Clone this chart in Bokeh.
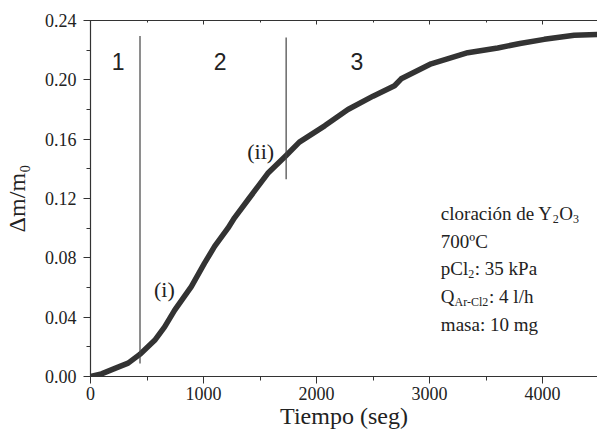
from bokeh.plotting import figure
from bokeh.models import (Range1d, LinearAxis, SingleIntervalTicker, NumeralTickFormatter,
                          Label, CustomJSTickFormatter)
from bokeh.embed import file_html
from bokeh.resources import INLINE

# ---- data ----
tiempo = [0, 97, 244, 333, 436, 568, 656, 745, 892, 1009, 1098, 1216, 1274, 1392, 1569,
          1731, 1848, 2072, 2278, 2500, 2690, 2749, 3014, 3338, 3603, 3800, 4015, 4280, 4486]
masa = [0.0, 0.0018, 0.0063, 0.009, 0.0149, 0.0244, 0.0334, 0.0447, 0.0606, 0.0764, 0.0877,
        0.100, 0.107, 0.119, 0.137, 0.149, 0.158, 0.169, 0.180, 0.189, 0.196, 0.2007, 0.2108,
        0.2183, 0.2215, 0.2245, 0.2273, 0.2300, 0.2305]

# stage boundaries (x, y_start, y_end)
limites_x = [438, 1731]
limites_y0 = [0.0088, 0.133]
limites_y1 = [0.2295, 0.2285]

etapas = ["1", "2", "3"]
etapas_x = [245, 1148, 2357]
etapas_y = [0.2125, 0.2125, 0.2125]

puntos = ["(i)", "(ii)"]
puntos_x = [746, 1625]
puntos_y = [0.0585, 0.1515]

condiciones = [
    [("cloración de Y", 0), ("2", 1), ("O", 0), ("3", 1)],
    [("700ºC", 0)],
    [("pCl", 0), ("2", 1), (": 35 kPa", 0)],
    [("Q", 0), ("Ar-Cl2", 1), (": 4 l/h", 0)],
    [("masa: 10 mg", 0)],
]
cond_x = 3100
cond_y = [0.1098, 0.0911, 0.0725, 0.0538, 0.0352]

# ---- style ----
AX = "#333333"
SERIF = "Liberation Serif"
FS_BLOCK = 19
FS_SUB = 12

# Times New Roman advance widths (em/1000) for positioning subscripts
TNR = {" ": 250, "c": 444, "l": 278, "o": 500, "r": 333, "a": 444, "i": 278, "ó": 500,
       "n": 500, "d": 500, "e": 444, "Y": 722, "O": 722, "p": 500, "C": 667, ":": 278,
       "3": 500, "5": 500, "k": 500, "P": 556, "Q": 722, "4": 500, "/": 278, "h": 500,
       "A": 722, "-": 333, "2": 500, "m": 778, "s": 389, "g": 500, "1": 500, "0": 500,
       "7": 500, "º": 310}


def text_width(s, size):
    return sum(TNR.get(ch, 500) for ch in s) * size / 1000.0


p = figure(width=597, height=437, output_backend="svg", toolbar_location=None,
           x_range=Range1d(0, 4486), y_range=Range1d(0, 0.24),
           min_border_left=89, min_border_right=0, min_border_top=20, min_border_bottom=61,
           x_axis_label="Tiempo (seg)", y_axis_label="Δm/m₀")
p.outline_line_color = None
p.grid.visible = False
p.background_fill_color = "white"
p.border_fill_color = "white"

p.xaxis.ticker = SingleIntervalTicker(interval=1000, num_minor_ticks=2)
p.yaxis.ticker = SingleIntervalTicker(interval=0.04, num_minor_ticks=2)
p.yaxis.formatter = NumeralTickFormatter(format="0.00")

for axs in (p.xaxis, p.yaxis):
    axs.axis_line_color = AX
    axs.axis_line_width = 1.2
    axs.major_tick_line_color = AX
    axs.minor_tick_line_color = AX
    axs.major_tick_in = 0
    axs.major_tick_out = 7
    axs.minor_tick_in = 0
    axs.minor_tick_out = 4
    axs.major_label_text_font = SERIF
    axs.major_label_text_font_size = "18px"
    axs.major_label_text_color = "#222222"
    axs.axis_label_text_font = SERIF
    axs.axis_label_text_font_size = "24px"
    axs.axis_label_text_font_style = "normal"
    axs.axis_label_text_color = "#222222"

p.xaxis.major_label_standoff = 3
p.yaxis.major_label_standoff = 7
p.xaxis.axis_label_standoff = 0
p.yaxis.axis_label_standoff = 12

top = LinearAxis(ticker=SingleIntervalTicker(interval=1000, num_minor_ticks=2),
                 formatter=CustomJSTickFormatter(code="return ''"))
top.axis_line_color = AX
top.axis_line_width = 1.2
top.major_tick_line_color = AX
top.minor_tick_line_color = AX
top.major_tick_in = 4
top.major_tick_out = 0
top.minor_tick_in = 2
top.minor_tick_out = 0
top.major_label_standoff = 0
p.add_layout(top, "above")

# data curve
p.line(tiempo, masa, line_color="#333333", line_width=5.5, line_cap="round", line_join="round")

# stage boundaries
for x, y0, y1 in zip(limites_x, limites_y0, limites_y1):
    p.line([x, x], [y0, y1], line_color="#444444", line_width=1.2)

# stage numbers
p.text(x=etapas_x, y=etapas_y, text=etapas, text_align="center", text_baseline="alphabetic",
       text_font={"value": "Liberation Sans"}, text_font_size={"value": "23px"},
       text_color="#222222")

# (i), (ii)
p.text(x=puntos_x, y=puntos_y, text=puntos, text_align="right", text_baseline="alphabetic",
       text_font={"value": SERIF}, text_font_size={"value": "22px"}, text_color="#222222")

# conditions block
for segs, yb in zip(condiciones, cond_y):
    off = 0.0
    for txt, sub in segs:
        size = FS_SUB if sub else FS_BLOCK
        p.add_layout(Label(x=cond_x, y=yb, x_offset=off, y_offset=-5 if sub else 0,
                           text=txt, text_font=SERIF, text_font_size=f"{size}px",
                           text_color="#222222", text_baseline="alphabetic",
                           text_align="left"))
        off += text_width(txt, size) + (0.5 if sub else 0)

open("out.html", "w").write(file_html(p, INLINE))
